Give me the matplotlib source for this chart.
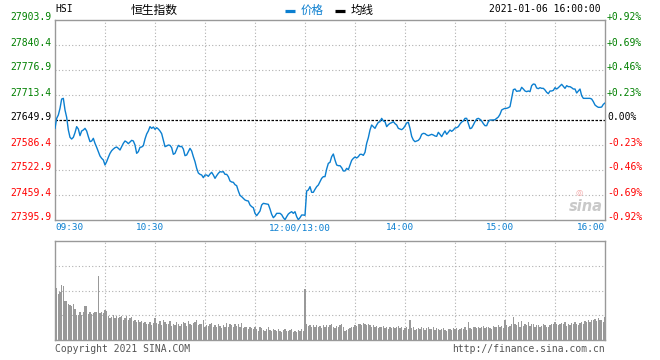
import numpy as np
import matplotlib
matplotlib.use("Agg")
import matplotlib.pyplot as plt
from matplotlib.transforms import blended_transform_factory, ScaledTranslation
from matplotlib.lines import Line2D

# ---------------- data ----------------
prev_close = 27649.9
y_levels = [27395.9, 27459.4, 27522.9, 27586.4, 27649.9, 27713.4, 27776.9, 27840.4, 27903.9]
time_labels = ["09:30", "10:30", "12:00/13:00", "14:00", "15:00", "16:00"]
time_label_pos = [0, 60, 150, 210, 270, 330]   # trading minutes from 09:30
grid_minutes = list(range(30, 330, 30))

price = [
    27628.7, 27654.1, 27662.6, 27679.5, 27703.2, 27704.9, 27675.3, 27656.7, 27624.5, 27605.9,
    27601.6, 27605.9, 27617.7, 27633.0, 27627.0, 27610.1, 27622.0, 27624.5, 27628.7, 27622.0,
    27607.6, 27594.9, 27596.6, 27603.3, 27590.6, 27580.5, 27569.5, 27558.5, 27552.5, 27548.3,
    27535.6, 27544.1, 27555.1, 27565.2, 27572.0, 27576.2, 27579.6, 27581.3, 27577.9, 27573.7,
    27582.2, 27590.6, 27596.6, 27594.0, 27589.8, 27594.0, 27598.2, 27596.6, 27586.4, 27565.2,
    27569.5, 27580.5, 27581.3, 27584.7, 27601.6, 27614.3, 27622.0, 27633.0, 27628.7, 27632.1,
    27626.2, 27630.4, 27627.0, 27622.0, 27615.2, 27599.1, 27582.2, 27583.9, 27586.4, 27585.5,
    27579.6, 27562.7, 27565.2, 27575.4, 27585.5, 27582.2, 27583.0, 27576.2, 27559.3, 27561.0,
    27569.5, 27577.9, 27571.2, 27556.8, 27544.1, 27527.1, 27515.3, 27511.9, 27510.2, 27503.4,
    27510.2, 27510.2, 27506.8, 27512.7, 27517.0, 27510.2, 27501.7, 27508.5, 27514.4, 27518.7,
    27517.8, 27518.7, 27511.9, 27511.9, 27506.0, 27495.0, 27492.4, 27491.6, 27485.6, 27483.1,
    27469.6, 27458.5, 27455.1, 27450.9, 27446.7, 27445.0, 27444.1, 27434.0, 27429.8, 27427.2,
    27412.8, 27406.9, 27412.8, 27418.7, 27434.0, 27438.2, 27437.4, 27436.5, 27435.7, 27423.8,
    27410.3, 27401.8, 27406.0, 27412.8, 27412.8, 27412.8, 27409.4, 27401.8, 27396.7, 27404.3,
    27411.1, 27414.5, 27417.0, 27412.8, 27417.0, 27404.3, 27396.7, 27401.8, 27408.6, 27408.6,
    27407.7,
    27469.6, 27472.1, 27480.6, 27466.2, 27466.2, 27473.8, 27480.6, 27484.8, 27493.3, 27501.7,
    27506.0, 27506.0, 27525.4, 27539.8, 27542.4, 27556.8, 27563.5, 27548.3, 27535.6, 27533.9,
    27533.9, 27528.8, 27520.4, 27520.4, 27527.1, 27523.7, 27535.6, 27547.4, 27552.5, 27555.9,
    27553.4, 27556.8, 27562.7, 27562.7, 27560.1, 27567.8, 27590.6, 27605.0, 27624.5, 27637.2,
    27633.0, 27628.7, 27637.2, 27644.0, 27645.7, 27654.1, 27647.4, 27645.7, 27633.0, 27638.0,
    27641.4, 27643.1, 27645.7, 27640.6, 27637.2, 27628.7, 27627.0, 27625.3, 27628.7, 27634.7,
    27642.3, 27644.0, 27628.7, 27608.4, 27599.1, 27594.9, 27596.6, 27598.2, 27603.3, 27613.5,
    27616.0, 27615.2, 27611.8, 27610.1, 27611.8, 27613.5, 27611.8, 27609.3, 27608.4, 27618.6,
    27613.5, 27607.6, 27615.2, 27622.0, 27613.5, 27618.6, 27624.5, 27621.1, 27624.5, 27629.6,
    27630.4, 27633.0, 27639.7, 27644.8, 27647.4, 27654.1, 27654.1, 27641.4, 27627.9, 27629.6,
    27637.2, 27645.7, 27652.4, 27654.1, 27651.6, 27647.4, 27640.6, 27635.5, 27635.5, 27645.7,
    27649.9, 27649.9, 27649.9, 27650.7, 27654.1, 27657.5, 27664.3, 27675.3, 27677.8, 27679.5,
    27679.5, 27681.2, 27683.8, 27704.9, 27726.9, 27728.6, 27722.7, 27723.6, 27723.6, 27732.9,
    27728.6, 27723.6, 27721.9, 27723.6, 27721.9, 27737.1, 27741.3, 27740.5, 27731.2, 27729.5,
    27732.0, 27730.3, 27730.3, 27726.1, 27720.2, 27716.8, 27723.6, 27723.6, 27725.2, 27732.0,
    27728.6, 27732.0, 27736.3, 27740.5, 27735.4, 27730.3, 27737.1, 27734.6, 27734.6, 27732.0,
    27728.6, 27728.6, 27718.5, 27723.6, 27728.6, 27711.7, 27704.9, 27704.9, 27704.9, 27704.9,
    27704.9, 27703.2, 27696.5, 27688.0, 27684.6, 27682.1, 27682.1, 27682.9, 27689.7, 27693.1,
]

volume = [
    178, 157, 140, 145, 168, 165, 117, 117, 110, 107, 102, 108, 95, 75, 75, 85, 75, 85, 102, 102,
    78, 85, 78, 82, 85, 85, 193, 82, 85, 82,
    92, 88, 72, 68, 70, 75, 68, 72, 66, 70, 74, 62, 68, 72, 60, 66, 70, 58, 62, 56,
    60, 54, 58, 52, 56, 48, 50, 55, 46, 52,
    68, 52, 48, 58, 45, 60, 55, 50, 48, 57, 42, 50, 46, 55, 50, 43, 48, 55, 52, 42,
    58, 50, 44, 52, 55, 60, 45, 48, 50, 62,
    40, 45, 42, 48, 52, 38, 45, 40, 50, 42, 36, 45, 40, 52, 40, 48, 44, 38, 50, 42,
    48, 40, 52, 35, 40, 38, 34, 40, 36, 32,
    38, 32, 28, 40, 35, 30, 26, 32, 38, 30, 28, 34, 30, 26, 32, 28, 24, 30, 34, 28,
    26, 30, 32, 25, 28, 24, 30, 28, 32, 26,
    155,
    48, 42, 45, 40, 46, 38, 44, 40, 42, 36, 45, 40, 46, 38, 44, 48, 40, 35, 42, 38,
    45, 50, 38, 28, 30, 32, 35, 38, 40, 45,
    42, 48, 50, 45, 52, 48, 44, 50, 46, 40, 44, 38, 42, 36, 40, 38, 42, 35, 38, 34,
    40, 36, 38, 35, 40, 42, 36, 38, 30, 35,
    40, 34, 62, 35, 38, 30, 34, 36, 32, 38, 35, 30, 36, 40, 34, 32, 38, 30, 35, 32,
    30, 34, 36, 30, 28, 32, 34, 30, 36, 32,
    35, 30, 32, 36, 34, 38, 30, 55, 36, 34, 40, 38, 35, 40, 36, 38, 42, 35, 40, 38,
    36, 34, 42, 38, 40, 44, 38, 42, 36, 60,
    45, 40, 42, 48, 70, 50, 45, 55, 40, 58, 42, 50, 45, 55, 42, 48, 50, 40, 46, 44,
    38, 42, 48, 45, 40, 38, 44, 48, 50, 55,
    48, 45, 50, 52, 48, 55, 42, 50, 46, 52, 48, 55, 50, 45, 52, 56, 50, 58, 55, 60,
    56, 62, 60, 65, 58, 68, 62, 60, 55, 70,
]

# ---------------- style ----------------
W, H = 660, 360
BLUE = "#0b7fd0"
GREEN = "#008000"
RED = "#ff0000"
GRID = "#b0b0b0"
SPINE = "#999999"
MONO = "DejaVu Sans Mono"
CJK = ["Noto Sans CJK SC", "DejaVu Sans"]
FS = 7.0


def fx(x):
    return x / W


def fy(y):
    return 1 - y / H


fig = plt.figure(figsize=(6.6, 3.6), dpi=100)
fig.patch.set_facecolor("white")

ax = fig.add_axes([fx(55), fy(220), fx(605) - fx(55), fy(20) - fy(220)])
axv = fig.add_axes([fx(55), fy(340), fx(605) - fx(55), fy(241) - fy(340)])

minutes = np.arange(len(price))
vmin = np.arange(len(volume))

for a in (ax, axv):
    a.set_xlim(0, 330)
    a.set_xticks([])
    a.set_yticks([])
    for s in a.spines.values():
        s.set_color(SPINE)
        s.set_linewidth(1.0)
    for t in grid_minutes:
        a.axvline(t, color=GRID, ls=(0, (1, 2)), lw=0.8, zorder=0)

ax.set_ylim(y_levels[0], y_levels[-1])
for lvl in y_levels[1:-1]:
    if lvl != prev_close:
        ax.axhline(lvl, color=GRID, ls=(0, (1, 2)), lw=0.8, zorder=0)
ax.axhline(prev_close, color="black", ls=(0, (2, 1.2)), lw=0.9, zorder=1)
ax.plot(minutes, price, color=BLUE, lw=1.0, zorder=3)

# y labels
tl = blended_transform_factory(ax.transAxes, ax.transData)
off_l = ScaledTranslation(-3.5 / 100, 2.5 / 100, fig.dpi_scale_trans)
off_r = ScaledTranslation(2 / 100, 2.5 / 100, fig.dpi_scale_trans)
for lvl in y_levels:
    if abs(lvl - prev_close) < 1e-6:
        col = "black"
        pct_txt = "0.00%"
    else:
        col = GREEN if lvl > prev_close else RED
        pct_txt = f"{(lvl - prev_close) / prev_close * 100:+.2f}%"
    ax.text(0, lvl, f"{lvl:.1f}", transform=tl + off_l, ha="right", va="center",
            color=col, fontsize=FS, family=MONO)
    ax.text(1, lvl, pct_txt, transform=tl + off_r, ha="left", va="center",
            color=col, fontsize=FS, family=MONO)

# x labels
tb = blended_transform_factory(ax.transData, ax.transAxes)
for pos, lab in zip(time_label_pos, time_labels):
    if pos == time_label_pos[0]:
        ha, dx = "left", 0
    elif pos == time_label_pos[-1]:
        ha, dx = "right", 0
    else:
        ha, dx = "center", -5
    off = ScaledTranslation(dx / 100, -7.8 / 100, fig.dpi_scale_trans)
    ax.text(pos, 0, lab, transform=tb + off, ha=ha, va="center", color=BLUE,
            fontsize=FS * 0.97, family=MONO)

# volume
axv.set_ylim(0, 300)
for g in (75, 150, 225):
    axv.axhline(g, color=GRID, ls=(0, (1, 2)), lw=0.8, zorder=0)
axv.bar(vmin, volume, width=0.62, color="#999999", linewidth=0, zorder=2)

# header
fig.text(fx(55), fy(9.5), "HSI", ha="left", va="center", fontsize=FS, family=MONO)
fig.text(fx(130.5), fy(10), "恒生指数", ha="left", va="center", fontsize=8.5, family=CJK)
fig.add_artist(Line2D([fx(285), fx(295)], [fy(11.3), fy(11.3)], color=BLUE, lw=2.3,
                      solid_capstyle="butt"))
fig.text(fx(300.5), fy(10), "价格", ha="left", va="center", fontsize=8.3, family=CJK, color=BLUE)
fig.add_artist(Line2D([fx(335), fx(345)], [fy(11.3), fy(11.3)], color="black", lw=2.3,
                      solid_capstyle="butt"))
fig.text(fx(350.5), fy(10), "均线", ha="left", va="center", fontsize=8.3, family=CJK, color="black")
fig.text(fx(601), fy(9.5), "2021-01-06 16:00:00", ha="right", va="center",
         fontsize=FS, family=MONO)

# sina watermark
fig.text(fx(586), fy(207), "sina", ha="center", va="center", fontsize=10.5, style="italic",
         fontweight="bold", color="#c9c9c9", family="DejaVu Sans")
fig.text(fx(579), fy(193), "◎", ha="center", va="center", fontsize=6, color="#f3a5a5",
         family="DejaVu Sans")

# footer
fig.text(fx(55), fy(349.5), "Copyright 2021 SINA.COM", ha="left", va="center",
         fontsize=FS, family=MONO, color="#555555")
fig.text(fx(605), fy(349.5), "http://finance.sina.com.cn", ha="right", va="center",
         fontsize=FS, family=MONO, color="#555555")

fig.savefig("out.png", dpi=100, facecolor="white")
